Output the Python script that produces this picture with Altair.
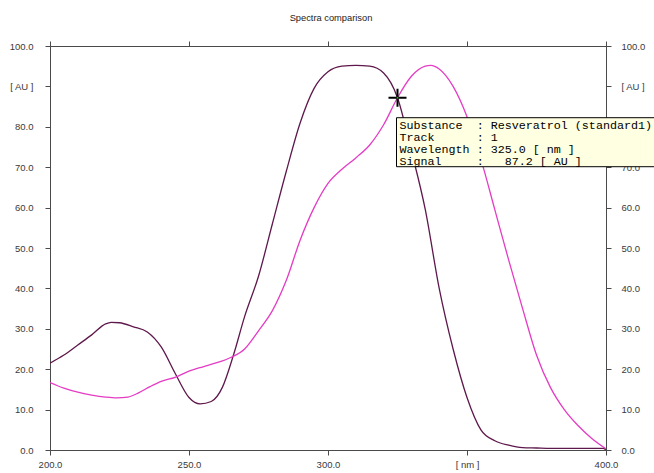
import altair as alt
import pandas as pd

# Track 1 (dark) and track 2 (magenta) absorption spectra, wavelength in nm, signal in AU
wl_1 = [200, 205, 210, 215, 220, 222, 225, 230, 235, 240, 245, 250, 254, 258, 262,
        266, 270, 275, 280, 285, 290, 295, 300, 305, 310, 315, 320, 325, 330, 335,
        340, 345, 350, 355, 360, 365, 370, 375, 380, 390, 399, 400]
sig_1 = [21.5, 23.5, 26.0, 28.5, 31.2, 31.6, 31.5, 30.5, 29.2, 25.5, 19.0, 13.0, 11.4, 12.0, 15.5,
         23.5, 33.0, 43.0, 56.0, 69.0, 81.0, 89.5, 93.6, 95.0, 95.2, 95.0, 93.3, 87.2, 74.0, 59.5,
         40.0, 25.0, 13.0, 5.0, 2.3, 1.2, 0.6, 0.5, 0.4, 0.4, 0.4, 0.0]

wl_2 = [200, 205, 210, 215, 220, 224, 228, 232, 236, 240, 245, 250, 255, 260, 265,
        270, 275, 280, 285, 290, 295, 300, 305, 310, 315, 320, 325, 330, 335, 337,
        340, 345, 350, 355, 360, 365, 370, 375, 380, 385, 390, 395, 400]
sig_2 = [16.7, 15.3, 14.3, 13.6, 13.1, 12.9, 13.1, 14.2, 15.7, 17.0, 18.0, 19.5, 20.6, 21.6, 22.9,
         25.0, 29.5, 34.5, 42.0, 52.0, 60.0, 66.0, 69.5, 72.3, 75.5, 80.5, 87.2, 92.5, 95.0, 95.2,
         94.3, 90.0, 82.5, 72.0, 59.5, 47.0, 35.0, 23.5, 15.5, 10.0, 6.0, 2.8, 0.3]

tracks = ["Track 1", "Track 2"]
track_colors = ["#5e184b", "#e43cc4"]

x_ticks = [200, 250, 300, 350, 400]
y_ticks = [0, 10, 20, 30, 40, 50, 60, 70, 80, 90, 100]

# Cursor readout
cursor_wl = 325.0
cursor_sig = 87.2
readout = [
    "Substance\u00a0\u00a0: Resveratrol (standard1)",
    "Track\u00a0\u00a0\u00a0\u00a0\u00a0\u00a0: 1",
    "Wavelength : 325.0 [ nm ]",
    "Signal\u00a0\u00a0\u00a0\u00a0\u00a0:\u00a0\u00a0\u00a087.2 [ AU ]",
]

df = pd.concat([
    pd.DataFrame({"wl": wl_1, "signal": sig_1, "track": tracks[0]}),
    pd.DataFrame({"wl": wl_2, "signal": sig_2, "track": tracks[1]}),
], ignore_index=True)

FONT = "Liberation Sans"
AX = "#4a4a4a"
LBL = "#3a3a3a"

x_scale = alt.Scale(domain=[200, 400], nice=False, zero=False)
y_scale = alt.Scale(domain=[0, 100], nice=False)

x_label = "datum.value == 350 ? '[ nm ]' : format(datum.value, '.1f')"
y_label = "datum.value == 90 ? '[ AU ]' : format(datum.value, '.1f')"

common_axis = dict(grid=False, domainColor=AX, tickColor=AX, tickSize=5,
                   labelFont=FONT, labelFontSize=9.5, labelColor=LBL,
                   labelOverlap=False, labelFlush=False, title=None)

color = alt.Color("track:N", scale=alt.Scale(domain=tracks, range=track_colors), legend=None)

lines = alt.Chart(df).mark_line(strokeWidth=1.3, clip=True, interpolate="monotone").encode(
    x=alt.X("wl:Q", scale=x_scale,
            axis=alt.Axis(orient="bottom", values=x_ticks, labelExpr=x_label, labelPadding=4, **common_axis)),
    y=alt.Y("signal:Q", scale=y_scale,
            axis=alt.Axis(orient="left", values=y_ticks, labelExpr=y_label, labelPadding=12, **common_axis)),
    color=color,
    order="wl:Q",
)

frame = alt.Chart(df).mark_line(opacity=0).encode(
    x=alt.X("wl:Q", scale=x_scale,
            axis=alt.Axis(orient="top", values=x_ticks, labels=False, **common_axis)),
    y=alt.Y("signal:Q", scale=y_scale,
            axis=alt.Axis(orient="right", values=y_ticks, labelExpr=y_label, labelPadding=10, **common_axis)),
    detail="track:N",
)

# Annotation layers share the data scales but draw no axes of their own
cx = alt.XDatum(cursor_wl, type="quantitative", scale=x_scale, axis=None)
cy = alt.YDatum(cursor_sig, type="quantitative", scale=y_scale, axis=None)

box = alt.Chart().mark_rect(
    fill="#ffffe1", stroke="#000000", strokeWidth=1,
    xOffset=-1, x2Offset=270, yOffset=20, y2Offset=69,
).encode(
    x=cx, x2=alt.datum(cursor_wl),
    y=cy, y2=alt.datum(cursor_sig),
)

text_layers = [
    alt.Chart().mark_text(align="left", baseline="middle", font="Liberation Mono",
                          fontSize=11.7, color="#000000", dx=2, dy=dy).encode(
        x=cx, y=cy, text=alt.datum(line))
    for line, dy in zip(readout, [27.5, 39.1, 51.1, 62.8])
]

cross = alt.Chart().mark_point(
    shape="M-1,0L1,0M0,-1L0,1", size=324, strokeWidth=2, color="#000000", filled=False, opacity=1,
).encode(x=cx, y=cy)

dot = alt.Chart().mark_point(shape="square", size=3, filled=True, color="#22aa22", opacity=1).encode(
    x=cx, y=cy)

chart = alt.layer(lines, frame, box, *text_layers, cross, dot).resolve_axis(
    x="independent", y="independent"
).properties(
    width=556,
    height=404,
    title=alt.TitleParams("Spectra comparison", font=FONT, fontSize=9.3, fontWeight="normal",
                          color="#222222", offset=17, dx=3),
    autosize=alt.AutoSizeParams(type="none"),
    padding={"left": 50, "top": 46, "right": 48, "bottom": 23},
    background="#ffffff",
).configure_view(stroke=None)

chart.save("out.html", embed_options={"renderer": "svg", "actions": False})
